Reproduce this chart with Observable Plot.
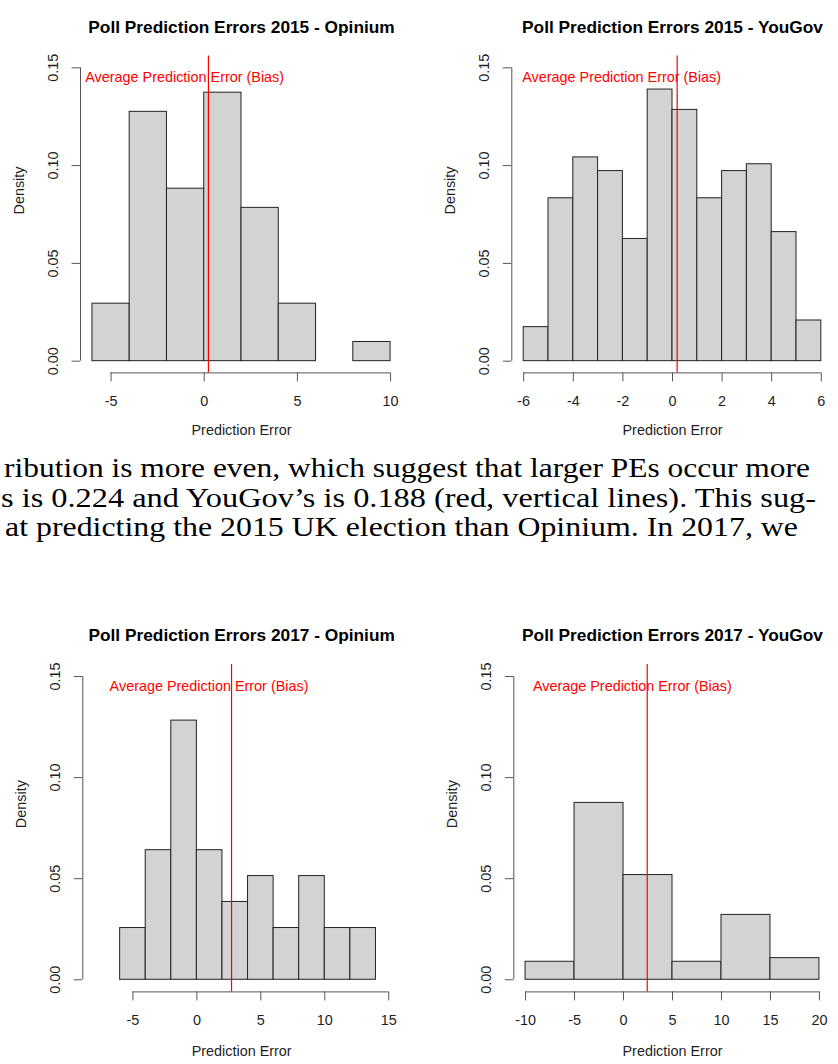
<!DOCTYPE html>
<html><head><meta charset="utf-8">
<script src="https://cdn.jsdelivr.net/npm/d3@7"></script>
<script src="https://cdn.jsdelivr.net/npm/@observablehq/plot@0.6"></script>
<style>
html,body{margin:0;padding:0;background:#fff;}
#page{position:relative;width:838px;height:1064px;overflow:hidden;background:#fff;}
.panel{position:absolute;}
.panel svg{display:block;overflow:visible;}
#prose{position:absolute;left:0;top:440px;}
#prose text{font-family:"Liberation Serif","Times New Roman",Times,serif;font-size:26.5px;fill:#000;}
</style></head>
<body><div id="page"></div>
<script>
// ---------- data ----------
const panelTitles = [
  "Poll Prediction Errors 2015 - Opinium",
  "Poll Prediction Errors 2015 - YouGov",
  "Poll Prediction Errors 2017 - Opinium",
  "Poll Prediction Errors 2017 - YouGov"
];
const xLabel = "Prediction Error";
const yLabel = "Density";
const biasLabel = "Average Prediction Error (Bias)";

const breaksOp15 = [-6, -4, -2, 0, 2, 4, 6, 8, 10];
const densityOp15 = [0.0294, 0.1275, 0.0882, 0.1373, 0.0784, 0.0294, 0, 0.0098];

const breaksYG15 = [-6, -5, -4, -3, -2, -1, 0, 1, 2, 3, 4, 5, 6];
const densityYG15 = [0.0174, 0.0833, 0.1042, 0.0972, 0.0625, 0.1389, 0.1285, 0.0833, 0.0972, 0.1007, 0.0660, 0.0208];

const breaksOp17 = [-6, -4, -2, 0, 2, 4, 6, 8, 10, 12, 14];
const densityOp17 = [0.0256, 0.0641, 0.1282, 0.0641, 0.0385, 0.0513, 0.0256, 0.0513, 0.0256, 0.0256];

const breaksYG17 = [-10, -5, 0, 5, 10, 15, 20];
const densityYG17 = [0.0089, 0.0875, 0.0518, 0.0089, 0.0321, 0.0107];

const biases = [0.224, 0.188, 2.71, 2.42];
const biasLabelX = [-1.05, -2.05, 0.95, 0.9];
const biasLabelY = [0.145, 0.145, 0.145, 0.145];

const xLimits = [[-6, 10], [-6, 6], [-8, 15], [-10, 20]];
const yLimits = [0, 0.15];
const xTickValues = [[-5, 0, 5, 10], [-6, -4, -2, 0, 2, 4, 6], [-5, 0, 5, 10, 15], [-10, -5, 0, 5, 10, 15, 20]];
const yTickValues = [0, 0.05, 0.10, 0.15];

const proseLines = [
  "ribution is more even, which suggest that larger PEs occur more",
  "s is 0.224 and YouGov\u2019s is 0.188 (red, vertical lines). This sug-",
  "at predicting the 2015 UK election than Opinium. In 2017, we"
];

// ---------- layout (positions only) ----------
const layouts = [
  {left: 0,   top: 0,   width: 419, height: 450, mL: 80,   mR: 17,  mT: 55.6, mB: 77.6, titleDy: -35, xlabDy: 61.6},
  {left: 419, top: 0,   width: 419, height: 450, mL: 92.3, mR: 5.3, mT: 55.6, mB: 77.6, titleDy: -35, xlabDy: 61.6},
  {left: 0,   top: 590, width: 419, height: 474, mL: 82.3, mR: 19,  mT: 73.9, mB: 72.6, titleDy: -36, xlabDy: 63.6},
  {left: 419, top: 590, width: 419, height: 474, mL: 94.3, mR: 7.3, mT: 73.9, mB: 72.6, titleDy: -36, xlabDy: 63.6}
];
const proseLayout = [
  {x: 4, y: 36.5, len: 806},
  {x: 1, y: 66.5, len: 815},
  {x: 5, y: 96, len: 793}
];

const hists = [
  [breaksOp15, densityOp15],
  [breaksYG15, densityYG15],
  [breaksOp17, densityOp17],
  [breaksYG17, densityYG17]
];

const axisColor = "#555";
const textColor = "#1e1e1e";
const fontFamily = "'Liberation Sans', Arial, Helvetica, sans-serif";

const page = document.getElementById("page");

function expand([lo, hi]) {
  const pad = 0.04 * (hi - lo);
  return [lo - pad, hi + pad];
}

hists.forEach(([breaks, dens], i) => {
  const L = layouts[i];
  const bins = dens.map((d, j) => ({x1: breaks[j], x2: breaks[j + 1], density: d}));
  const xDom = expand(xLimits[i]);
  const yDom = expand(yLimits);
  const xt = xTickValues[i];
  const chart = Plot.plot({
    width: L.width,
    height: L.height,
    marginLeft: L.mL,
    marginRight: L.mR,
    marginTop: L.mT,
    marginBottom: L.mB,
    style: {fontFamily, fontSize: "14.4px", background: "transparent", overflow: "visible"},
    x: {domain: xDom},
    y: {domain: yDom},
    marks: [
      Plot.rect(bins, {x1: "x1", x2: "x2", y1: () => yLimits[0], y2: "density", fill: "#d3d3d3", stroke: "#222", strokeWidth: 1, inset: 0}),
      // x axis
      Plot.ruleY([yDom[0]], {x1: xt[0], x2: xt[xt.length - 1], stroke: axisColor, strokeWidth: 1}),
      Plot.axisX({ticks: xt, tickSize: 9, tickPadding: 13.6, tickFormat: d => String(d), label: null, stroke: axisColor, fill: textColor, fontSize: 14.4}),
      // y axis
      Plot.ruleX([xDom[0]], {y1: yTickValues[0], y2: yTickValues[yTickValues.length - 1], stroke: axisColor, strokeWidth: 1}),
      Plot.axisY({ticks: yTickValues, tickSize: 8.5, tickFormat: () => "", label: null, stroke: axisColor}),
      Plot.text(yTickValues, {y: d => d, frameAnchor: "left", dx: -27, rotate: -90, text: d => d.toFixed(2), textAnchor: "middle", lineAnchor: "middle", fill: textColor, fontSize: 14.4}),
      // bias line + label
      Plot.ruleX([biases[i]], {x: d => d, stroke: "red", strokeWidth: 1.2}),
      Plot.text([{x: biasLabelX[i], y: biasLabelY[i]}], {x: "x", y: "y", text: () => biasLabel, fill: "red", fontSize: 14.4, textAnchor: "middle"}),
      // titles
      Plot.text([panelTitles[i]], {frameAnchor: "top", dy: L.titleDy, text: d => d, fontWeight: "bold", fontSize: 17.3, fill: "#000"}),
      Plot.text([xLabel], {frameAnchor: "bottom", dy: L.xlabDy, text: d => d, fill: textColor, fontSize: 14.4}),
      Plot.text([yLabel], {frameAnchor: "left", dx: -61.5, rotate: -90, text: d => d, fill: textColor, fontSize: 14.4})
    ]
  });
  const wrap = document.createElement("div");
  wrap.className = "panel";
  wrap.style.left = L.left + "px";
  wrap.style.top = L.top + "px";
  wrap.appendChild(chart);
  page.appendChild(wrap);
});

// prose between the figures
const ns = "http://www.w3.org/2000/svg";
const prose = document.createElementNS(ns, "svg");
prose.setAttribute("id", "prose");
prose.setAttribute("width", 838);
prose.setAttribute("height", 120);
proseLines.forEach((line, k) => {
  const P = proseLayout[k];
  const t = document.createElementNS(ns, "text");
  t.setAttribute("x", P.x);
  t.setAttribute("y", P.y);
  t.setAttribute("textLength", P.len);
  t.setAttribute("lengthAdjust", "spacingAndGlyphs");
  t.textContent = line;
  prose.appendChild(t);
});
page.appendChild(prose);
</script>
</body></html>
